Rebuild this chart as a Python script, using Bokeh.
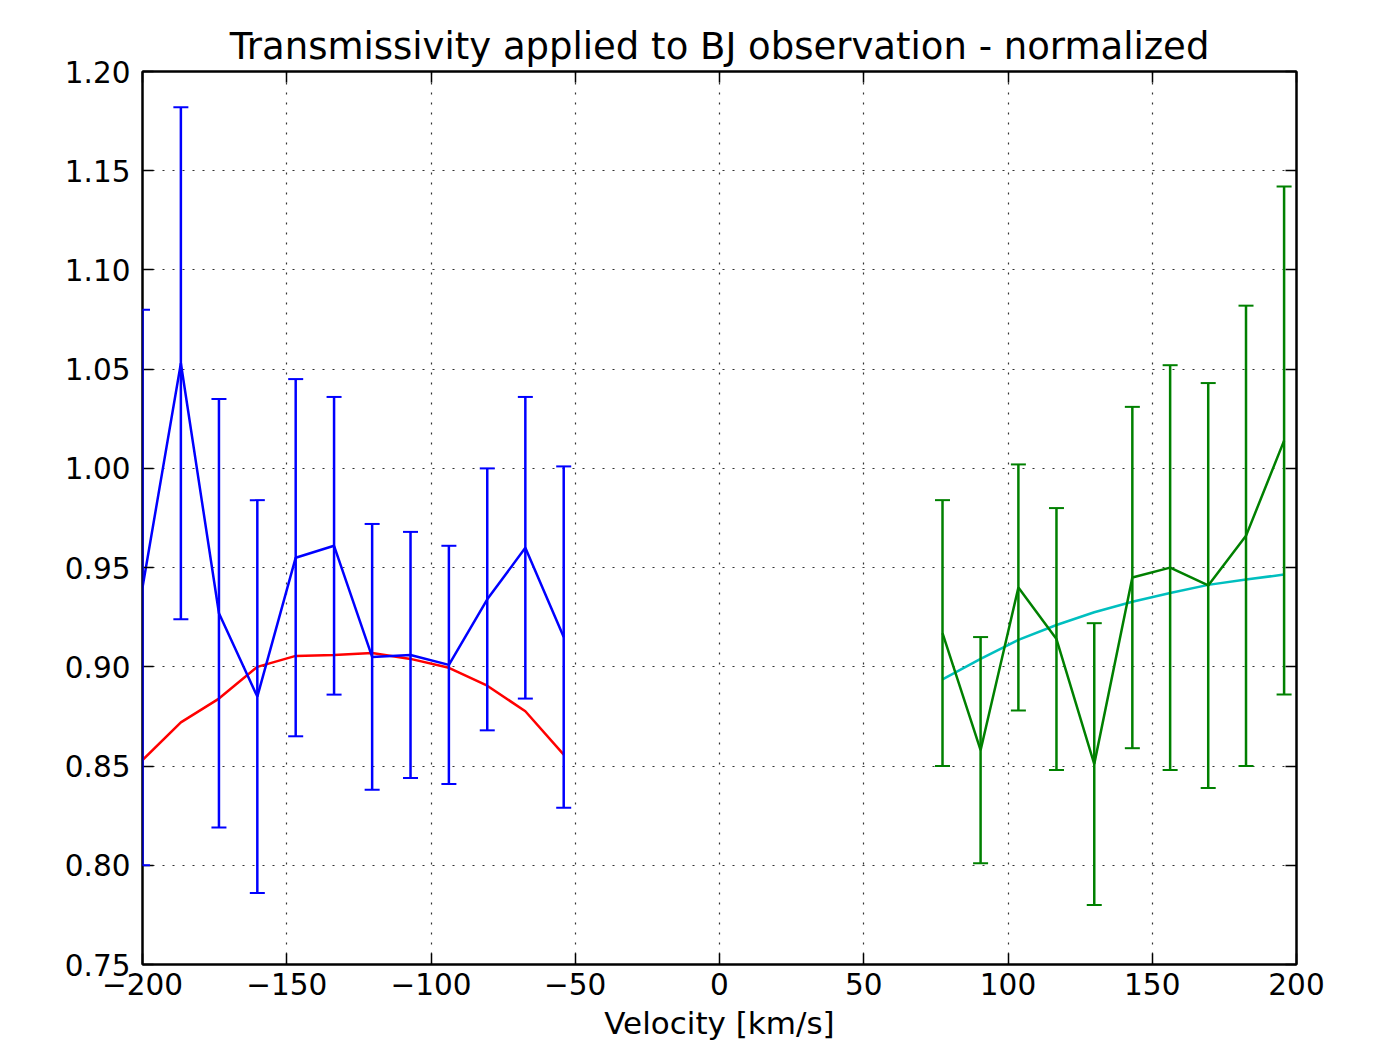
from bokeh.plotting import figure
from bokeh.models import (ColumnDataSource, Whisker, TeeHead, Range1d, FixedTicker,
                          LinearAxis, NumeralTickFormatter, CustomJSTickFormatter, Grid)
from bokeh.embed import file_html
from bokeh.resources import INLINE

# ---- data ----
blue_x = [-200.0, -186.7, -173.5, -160.2, -146.9, -133.6, -120.4, -107.1, -93.8, -80.5, -67.3, -54.0]
blue_y = [0.940, 1.053, 0.927, 0.885, 0.955, 0.961, 0.905, 0.906, 0.901, 0.934, 0.960, 0.915]
blue_err = [0.140, 0.129, 0.108, 0.099, 0.090, 0.075, 0.067, 0.062, 0.060, 0.066, 0.076, 0.086]
red_y = [0.853, 0.872, 0.884, 0.900, 0.9055, 0.906, 0.907, 0.904, 0.8995, 0.8905, 0.8776, 0.8558]

green_x = [77.3, 90.5, 103.6, 116.8, 129.9, 143.1, 156.2, 169.4, 182.5, 195.7]
green_y = [0.917, 0.858, 0.940, 0.914, 0.851, 0.945, 0.950, 0.941, 0.966, 1.014]
green_err = [0.067, 0.057, 0.062, 0.066, 0.071, 0.086, 0.102, 0.102, 0.116, 0.128]
cyan_y = [0.8937, 0.904, 0.9136, 0.9211, 0.9275, 0.9328, 0.9372, 0.9413, 0.944, 0.9465]

x_ticks = [-200, -150, -100, -50, 0, 50, 100, 150, 200]
y_ticks = [0.75, 0.80, 0.85, 0.90, 0.95, 1.00, 1.05, 1.10, 1.15, 1.20]

FONT = "DejaVu Sans"

p = figure(width=1360, height=1043, output_backend="svg", toolbar_location=None,
           x_range=Range1d(-200, 200), y_range=Range1d(0.75, 1.20),
           x_axis_type=None, y_axis_type=None,
           min_border_left=142, min_border_right=64, min_border_top=71, min_border_bottom=79)

p.title.text = "Transmissivity applied to BJ observation - normalized"
p.title.text_font = FONT
p.title.text_font_size = "37px"
p.title.text_font_style = "normal"
p.title.align = "center"
p.title.text_color = "black"
p.title.standoff = 8

p.outline_line_color = "black"
p.outline_line_width = 2
p.background_fill_color = "white"
p.border_fill_color = "white"

def style_axis(ax, labels=True):
    ax.major_tick_in = 11
    ax.major_tick_out = 0
    ax.major_tick_line_color = "black"
    ax.major_tick_line_width = 1.5
    ax.minor_tick_line_color = None
    ax.axis_line_color = "black"
    ax.axis_line_width = 2
    ax.major_label_text_font = FONT
    ax.major_label_text_font_size = "29.5px"
    ax.major_label_text_color = "black"
    ax.major_label_standoff = 12
    if not labels:
        ax.formatter = CustomJSTickFormatter(code="return '';")

xfmt = CustomJSTickFormatter(code="return tick < 0 ? '\u2212' + Math.abs(tick) : String(tick);")

xb = LinearAxis(ticker=FixedTicker(ticks=x_ticks), formatter=xfmt, axis_label="Velocity [km/s]")
style_axis(xb)
xb.major_label_standoff = 8
xb.axis_label_text_font = FONT
xb.axis_label_text_font_size = "31px"
xb.axis_label_text_font_style = "normal"
xb.axis_label_text_color = "black"
xb.axis_label_standoff = 7
p.add_layout(xb, "below")

yl = LinearAxis(ticker=FixedTicker(ticks=y_ticks), formatter=NumeralTickFormatter(format="0.00"))
style_axis(yl)
p.add_layout(yl, "left")

xt = LinearAxis(ticker=FixedTicker(ticks=x_ticks))
style_axis(xt, labels=False)
xt.major_label_standoff = 0
p.add_layout(xt, "above")
yr = LinearAxis(ticker=FixedTicker(ticks=y_ticks))
style_axis(yr, labels=False)
yr.major_label_standoff = 0
p.add_layout(yr, "right")

for dim, tk in ((0, x_ticks), (1, y_ticks)):
    g = Grid(dimension=dim, ticker=FixedTicker(ticks=tk))
    g.grid_line_color = "#333333"
    g.grid_line_width = 1.2
    g.grid_line_dash = "2 8"
    p.add_layout(g)

blue_src = ColumnDataSource(dict(
    x=blue_x, y=blue_y,
    lo=[y - e for y, e in zip(blue_y, blue_err)],
    hi=[y + e for y, e in zip(blue_y, blue_err)],
    m=red_y))
green_src = ColumnDataSource(dict(
    x=green_x, y=green_y,
    lo=[y - e for y, e in zip(green_y, green_err)],
    hi=[y + e for y, e in zip(green_y, green_err)],
    m=cyan_y))

for src, col in ((blue_src, "#0000ff"), (green_src, "#008000")):
    w = Whisker(source=src, base="x", lower="lo", upper="hi", dimension="height",
                line_color=col, line_width=2.5, level="overlay",
                upper_head=TeeHead(size=15, line_color=col, line_width=2),
                lower_head=TeeHead(size=15, line_color=col, line_width=2))
    p.add_layout(w)

p.line("x", "m", source=blue_src, line_color="#ff0000", line_width=2.5)
p.line("x", "y", source=blue_src, line_color="#0000ff", line_width=2.5)
p.line("x", "m", source=green_src, line_color="#00bfbf", line_width=2.5)
p.line("x", "y", source=green_src, line_color="#008000", line_width=2.5)

open("out.html", "w").write(file_html(p, INLINE))
